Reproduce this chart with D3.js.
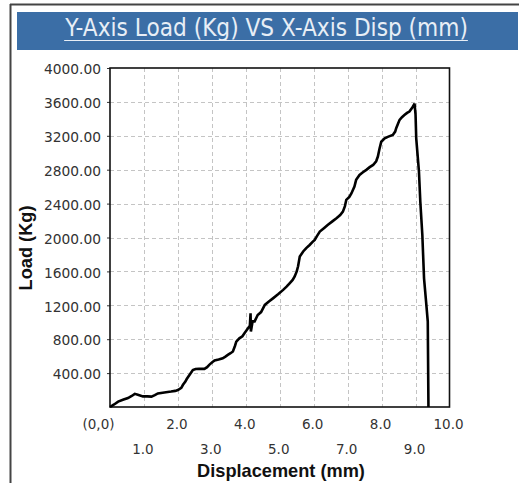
<!DOCTYPE html>
<html>
<head>
<meta charset="utf-8">
<script src="https://cdn.jsdelivr.net/npm/d3@7"></script>
<style>
  html, body { margin: 0; padding: 0; background: #fff; }
  svg { display: block; }
</style>
</head>
<body>
<svg id="chart" width="519" height="483"></svg>
<script>
// ---- data ----
const chartTitle = "Y-Axis Load (Kg) VS X-Axis Disp (mm)";
const xAxisTitle = "Displacement (mm)";
const yAxisTitle = "Load (Kg)";
const xTicks = [0, 1, 2, 3, 4, 5, 6, 7, 8, 9, 10];
const xTickLabels = ["(0,0)", "1.0", "2.0", "3.0", "4.0", "5.0", "6.0", "7.0", "8.0", "9.0", "10.0"];
const yTicks = [400, 800, 1200, 1600, 2000, 2400, 2800, 3200, 3600, 4000];
const yTickLabels = ["400.00", "800.00", "1200.00", "1600.00", "2000.00", "2400.00", "2800.00", "3200.00", "3600.00", "4000.00"];

const disp = [0, 0.12, 0.24, 0.38, 0.53, 0.64, 0.73, 0.82, 0.97, 1.1, 1.22, 1.32, 1.41, 1.6, 1.8, 1.92, 2.0, 2.1, 2.15, 2.22, 2.26, 2.34, 2.44, 2.52, 2.62, 2.78, 2.86, 2.93, 3.02, 3.08, 3.2, 3.32, 3.4, 3.47, 3.55, 3.62, 3.68, 3.72, 3.81, 3.9, 3.96, 4.06, 4.12, 4.14, 4.15, 4.2, 4.26, 4.35, 4.45, 4.56, 4.68, 4.8, 4.95, 5.1, 5.2, 5.29, 5.38, 5.44, 5.5, 5.54, 5.59, 5.69, 5.78, 5.88, 5.96, 6.03, 6.1, 6.18, 6.3, 6.42, 6.55, 6.67, 6.78, 6.86, 6.92, 6.96, 7.05, 7.11, 7.2, 7.25, 7.35, 7.45, 7.55, 7.65, 7.75, 7.84, 7.89, 7.94, 7.99, 8.09, 8.2, 8.33, 8.4, 8.43, 8.48, 8.53, 8.6, 8.68, 8.75, 8.82, 8.9, 8.97, 9.0, 9.02, 9.1, 9.14, 9.2, 9.25, 9.31, 9.36, 9.38];
const load = [0, 30, 63, 85, 105, 130, 155, 145, 125, 125, 122, 140, 160, 172, 182, 190, 200, 225, 262, 300, 330, 378, 436, 448, 450, 450, 470, 500, 530, 548, 560, 575, 595, 615, 635, 655, 720, 772, 810, 835, 870, 925, 960, 1105, 890, 1010, 1010, 1085, 1120, 1205, 1245, 1282, 1330, 1382, 1420, 1460, 1500, 1540, 1600, 1660, 1775, 1835, 1875, 1912, 1945, 1972, 2020, 2070, 2110, 2150, 2190, 2228, 2265, 2305, 2370, 2445, 2480, 2520, 2600, 2680, 2738, 2770, 2798, 2830, 2856, 2900, 2955, 3050, 3130, 3170, 3190, 3210, 3250, 3290, 3340, 3388, 3420, 3447, 3470, 3486, 3530, 3580, 3450, 3170, 2778, 2423, 2030, 1518, 1243, 1007, 0];

// ---- layout ----
const svg = d3.select("#chart");
const W = 519, H = 483;
const plot = { left: 110, top: 68, right: 449.5, bottom: 407 };

const x = d3.scaleLinear().domain([0, 10]).range([plot.left, plot.right]);
const y = d3.scaleLinear().domain([0, 4000]).range([plot.bottom, plot.top]);

// outer frame
svg.append("line").attr("x1", 10).attr("x2", W).attr("y1", 4.5).attr("y2", 4.5)
  .attr("stroke", "#444").attr("stroke-width", 2);
svg.append("line").attr("x1", 10.5).attr("x2", 10.5).attr("y1", 4).attr("y2", H)
  .attr("stroke", "#444").attr("stroke-width", 2);

// title bar
svg.append("rect").attr("x", 17).attr("y", 12).attr("width", 501).attr("height", 38)
  .attr("fill", "#3b6ea6");

function fit(sel, target) {
  let fs = parseFloat(sel.attr("font-size"));
  const w = sel.node().getComputedTextLength();
  sel.attr("font-size", (fs * target / w).toFixed(2));
}

const title = svg.append("text")
  .attr("x", 266.5).attr("y", 36)
  .attr("text-anchor", "middle")
  .attr("font-family", "'DejaVu Sans Condensed', 'DejaVu Sans', sans-serif")
  .attr("font-size", 18)
  .attr("fill", "#e8eef6")
  .text(chartTitle);
fit(title, 403);
const tb = title.node().getBBox();
svg.append("line").attr("x1", tb.x).attr("x2", tb.x + tb.width)
  .attr("y1", 40.5).attr("y2", 40.5).attr("stroke", "#e8eef6").attr("stroke-width", 1);

// grid
const grid = svg.append("g").attr("stroke", "#c4c4c4").attr("stroke-width", 1)
  .attr("stroke-dasharray", "4,3").attr("fill", "none");
grid.selectAll("line.v").data(xTicks.slice(1, -1)).join("line")
  .attr("x1", d => Math.round(x(d)) + 0.5).attr("x2", d => Math.round(x(d)) + 0.5)
  .attr("y1", plot.top).attr("y2", plot.bottom);
grid.selectAll("line.h").data(yTicks.slice(0, -1)).join("line")
  .attr("y1", d => Math.round(y(d)) + 0.5).attr("y2", d => Math.round(y(d)) + 0.5)
  .attr("x1", plot.left).attr("x2", plot.right);

// axes
const labelFont = "'DejaVu Sans', Verdana, sans-serif";
const yAxis = svg.append("g").attr("transform", `translate(${plot.left},0)`)
  .call(d3.axisLeft(y).tickValues(yTicks).tickSize(3).tickPadding(6)
    .tickFormat((d, i) => yTickLabels[i]));
yAxis.select(".domain").remove();
yAxis.selectAll("text").attr("font-family", labelFont).attr("font-size", 13.8)
  .attr("fill", "#333").attr("dy", "0.42em");
yAxis.selectAll("line").attr("stroke", "#333");

const xAxis = svg.append("g").attr("transform", `translate(0,${plot.bottom})`)
  .call(d3.axisBottom(x).tickValues(xTicks).tickSize(0).tickPadding(12)
    .tickFormat((d, i) => xTickLabels[i]));
xAxis.select(".domain").remove();
xAxis.selectAll("text").attr("font-family", labelFont).attr("font-size", 13.5)
  .attr("fill", "#333")
  .attr("dx", d => d === 0 ? "-12" : "-1.5")
  .attr("y", d => (d % 2 === 1) ? 37 : 12);

// plot border
svg.append("rect").attr("x", plot.left).attr("y", plot.top)
  .attr("width", plot.right - plot.left).attr("height", plot.bottom - plot.top)
  .attr("fill", "none").attr("stroke", "#111").attr("stroke-width", 1.6);

// curve
const pts = disp.map((d, i) => [d, load[i]]);
const line = d3.line().x(d => x(d[0])).y(d => y(d[1])).curve(d3.curveLinear);
svg.append("path").datum(pts).attr("d", line)
  .attr("fill", "none").attr("stroke", "#000").attr("stroke-width", 2.6)
  .attr("stroke-linejoin", "miter").attr("stroke-miterlimit", 2);

// axis titles
const xt = svg.append("text").attr("x", 281).attr("y", 477)
  .attr("text-anchor", "middle").attr("font-family", "'Liberation Sans', Arial, sans-serif")
  .attr("font-weight", "bold").attr("font-size", 15).attr("fill", "#111").text(xAxisTitle);
fit(xt, 168);
svg.append("text").attr("transform", "translate(32,248) rotate(-90)")
  .attr("text-anchor", "middle").attr("font-family", "'Liberation Sans', Arial, sans-serif")
  .attr("font-weight", "bold").attr("font-size", xt.attr("font-size")).attr("fill", "#111")
  .text(yAxisTitle);
</script>
</body>
</html>
